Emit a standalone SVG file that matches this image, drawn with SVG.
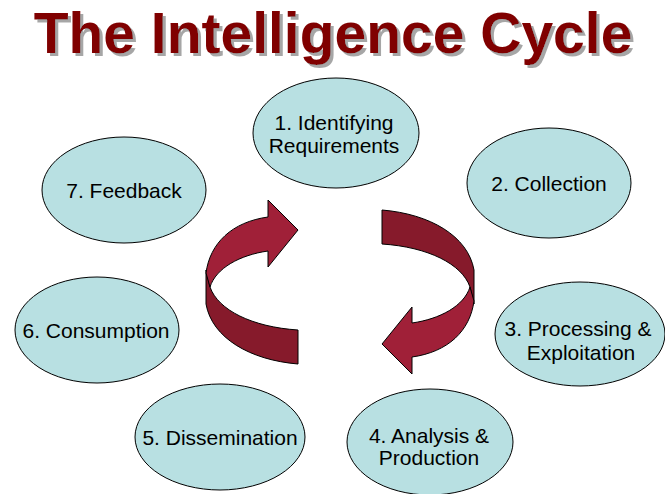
<svg xmlns="http://www.w3.org/2000/svg" xmlns:xlink="http://www.w3.org/1999/xlink" width="665" height="494" viewBox="0 0 665 494">
<style>
.node ellipse{fill:#B8E0E2;stroke:#000;stroke-width:1}
.node text{font-family:"Liberation Sans",Arial,sans-serif;font-size:21px;fill:#000;text-anchor:middle}
.title{font-family:"Liberation Sans",Arial,sans-serif;font-size:57px;font-weight:bold;text-anchor:middle;fill:#800000}
.light{fill:#A02038;stroke:#000;stroke-width:1;stroke-linejoin:round}
.dark{fill:#861A2B;stroke:#000;stroke-width:1;stroke-linejoin:round}
</style>
<defs>
<filter id="shadow" x="-5%" y="-20%" width="110%" height="140%">
<feDropShadow dx="3" dy="3" stdDeviation="0.4" flood-color="#A6A6A6" flood-opacity="1"/>
</filter>
<g id="arrow">
<path class="dark" d="M206,270 L206,304 C212,338 250,360 298,364 L298,330 C252,327 218,310 210,287 Z"/>
<path class="light" d="M206,273 C210,243 232,222 268,217 L268,200 L298,230 L268,267 L268,251 C240,255 216,268 210,287 Z"/>
</g>
</defs>
<rect width="665" height="494" fill="#fff"/>
<g id="title">
<text class="title" x="333" y="53" filter="url(#shadow)">The Intelligence Cycle</text>
</g>
<g id="connectors">
<use xlink:href="#arrow"/>
<use xlink:href="#arrow" transform="rotate(180 340 287)"/>
</g>
<g id="n1" class="node"><ellipse cx="336" cy="133" rx="83" ry="55"/><text x="334" y="130">1. Identifying</text><text x="334" y="153">Requirements</text></g>
<g id="n2" class="node"><ellipse cx="549" cy="183" rx="82" ry="55"/><text x="549" y="191">2. Collection</text></g>
<g id="n3" class="node"><ellipse cx="580" cy="334" rx="85" ry="52"/><text x="578" y="336">3. Processing &amp;</text><text x="581" y="360">Exploitation</text></g>
<g id="n4" class="node"><ellipse cx="430" cy="442" rx="83" ry="53"/><text x="429" y="443">4. Analysis &amp;</text><text x="429" y="465">Production</text></g>
<g id="n5" class="node"><ellipse cx="220" cy="437" rx="85" ry="53"/><text x="220" y="445">5. Dissemination</text></g>
<g id="n6" class="node"><ellipse cx="97" cy="330" rx="82" ry="53"/><text x="96" y="338">6. Consumption</text></g>
<g id="n7" class="node"><ellipse cx="124" cy="190" rx="82" ry="53"/><text x="124" y="198">7. Feedback</text></g>
</svg>
